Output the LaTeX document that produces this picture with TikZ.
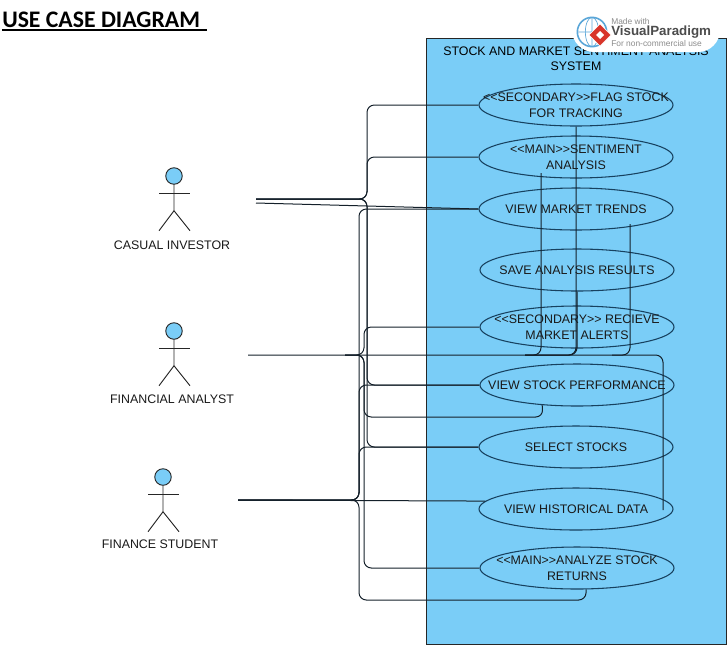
\documentclass[tikz,border=0pt]{standalone}
\usepackage{fontspec}
\newfontfamily\ucfont{Liberation Sans}
\newfontfamily\titlefont{Carlito}
\usepackage{tikz}
\usetikzlibrary{shapes.geometric, calc}
\definecolor{sysblue}{HTML}{7ACDF7}
\definecolor{ucedge}{HTML}{17415F}
\definecolor{linkdark}{HTML}{14202A}
\definecolor{logoblue}{HTML}{5AA6D8}
\definecolor{logored}{HTML}{D8352A}
\tikzset{
	usecase/.style={draw=ucedge, line width=0.8pt, ellipse, inner sep=0pt, minimum width=145.5pt, minimum height=31.5pt,
		label={[align=center, text=black!90, inner sep=0pt, font=\ucfont\fontsize{9.3}{11.8}\selectfont]center:#1}},
	link/.style={draw=linkdark, line width=0.75pt, rounded corners=5.5pt},
	actorline/.style={draw=black!85, line width=0.7pt},
	actortext/.style={font=\ucfont\fontsize{9.3}{11}\selectfont, text=black!90}
}
\begin{document}
\begin{tikzpicture}[x=0.75pt,y=-0.75pt]
	\useasboundingbox (0,0) rectangle (727,644);
	\node[anchor=west, inner sep=0pt, font=\titlefont\bfseries\fontsize{17.8}{20}\selectfont] (title) at (2,20) {USE CASE DIAGRAM};
	\draw[line width=1pt] (2,30) -- (207,30);
	% system box
	\filldraw[fill=sysblue, draw=black!85, line width=0.7pt] (426,38) rectangle (726.5,644);
	\node[align=center, inner sep=0pt, font=\ucfont\fontsize{9.3}{11.2}\selectfont] (systemname) at (576,59) {STOCK AND MARKET SENTIMENT ANALYSIS\\SYSTEM};
	% use cases
	\node[usecase={<<SECONDARY>>FLAG STOCK\\FOR TRACKING}] (flag) at (576,105) {};
	\node[usecase={<<MAIN>>SENTIMENT\\ANALYSIS}] (sentiment) at (576,157) {};
	\node[usecase={VIEW MARKET TRENDS}] (trends) at (576,209) {};
	\node[usecase={SAVE ANALYSIS RESULTS}] (save) at (577,270) {};
	\node[usecase={<<SECONDARY>> RECIEVE\\MARKET ALERTS}] (alerts) at (577,327) {};
	\node[usecase={VIEW STOCK PERFORMANCE}] (performance) at (577,385) {};
	\node[usecase={SELECT STOCKS}] (select) at (576,447) {};
	\node[usecase={VIEW HISTORICAL DATA}] (historical) at (576,509) {};
	\node[usecase={<<MAIN>>ANALYZE STOCK\\RETURNS}] (analyze) at (577,568) {};
	% actors
	\foreach \name/\ax/\ay/\lab/\lx/\ly in {casual/174/176/CASUAL INVESTOR/172/245, analyst/174/331/FINANCIAL ANALYST/172/399.5, student/163/477/FINANCE STUDENT/160/544.5}{
		\node[circle, draw=black!85, fill=sysblue, line width=0.7pt, inner sep=0pt, minimum size=12.4pt] (\name head) at (\ax,\ay) {};
		\draw[actorline] (\name head.south) -- ++(0,26) coordinate (\name hip) -- ++(-15,20);
		\draw[actorline] (\name hip) -- ++(16,20);
		\draw[actorline] ($(\ax,\ay)+(-15,17)$) -- ++(31,0);
		\node[actortext, inner sep=0pt] (\name label) at (\lx,\ly) {\lab};
	}
	% free ends of the connectors
	\coordinate (casualA) at (256,199);
	\coordinate (casualB) at (256,203);
	\coordinate (casualbus) at (367,199);
	\coordinate (analystA) at (248,355);
	\coordinate (analystB) at (345,355);
	\coordinate (analystC) at (525,355);
	\coordinate (analystD) at (612,355);
	\coordinate (analystbus) at (364,355);
	\coordinate (studentA) at (238,500);
	\coordinate (studentbus) at (359,500);
	\coordinate (sentimentend) at (541,173);
	\coordinate (trendsend) at (630,224);
	\coordinate (histend) at (663,510);
	\coordinate (perflow) at (543,417);
	\coordinate (analyzelow) at (586,600);
	% casual investor
	\draw[link] (casualA) -- (casualbus) |- (flag.west);
	\draw[link] (casualA) -- (casualbus) |- (sentiment.west);
	\draw[link] (casualB) -- (trends.west);
	\draw[link] (casualA) -- (casualbus) |- (performance.west);
	\draw[link] (casualA) -- (casualbus) |- (select.west);
	% financial analyst
	\draw[link] (analystA) -| (histend);
	\draw[link] (analystB) -- (analystbus) |- (alerts.west);
	\draw[link] (analystB) -- (analystbus) |- (analyze.west);
	\draw[link] (analystB) -- (analystbus) |- (perflow) -- (performance.-150);
	\draw[link] (analystC) -| (sentimentend);
	\draw[link] (analystC) -| (flag.south);
	\draw[link] (analystC) -| (save.south);
	\draw[link] (analystD) -| (trendsend);
	% finance student
	\draw[link] (studentA) -- (studentbus) |- (trends.west);
	\draw[link] (studentA) -- (studentbus) |- (performance.west);
	\draw[link] (studentA) -- (studentbus) |- (select.west);
	\draw[link] (studentA) -- (historical.175);
	\draw[link] (studentA) -- (studentbus) |- (analyzelow) -- (analyze.-67);
	% logo
	\fill[white, rounded corners=16.5pt] (572,8) rectangle (720,52);
	\filldraw[fill=white, draw=logoblue, line width=1.2pt] (592,32) circle (11pt);
	\draw[draw=logoblue, line width=0.5pt] (577,32) -- (607,32) (592,17) -- (592,47) (592,32) ellipse (5pt and 11pt);
	\filldraw[fill=logored, draw=white, line width=0.5pt] (600,24) -- (611,35) -- (600,46) -- (589,35) -- cycle;
	\fill[white] (600,31) -- (604,35) -- (600,39) -- (596,35) -- cycle;
	\node[anchor=west, inner sep=0pt, text=black!45, font=\ucfont\fontsize{6.3}{7}\selectfont] (logotop) at (611,21) {Made with};
	\node[anchor=west, inner sep=0pt, text=black!70, font=\ucfont\bfseries\fontsize{10}{12}\selectfont] (logomain) at (611,32) {VisualParadigm};
	\node[anchor=west, inner sep=0pt, text=black!45, font=\ucfont\fontsize{6.3}{7}\selectfont] (logobottom) at (611,43) {For non-commercial use};
\end{tikzpicture}
\end{document}
